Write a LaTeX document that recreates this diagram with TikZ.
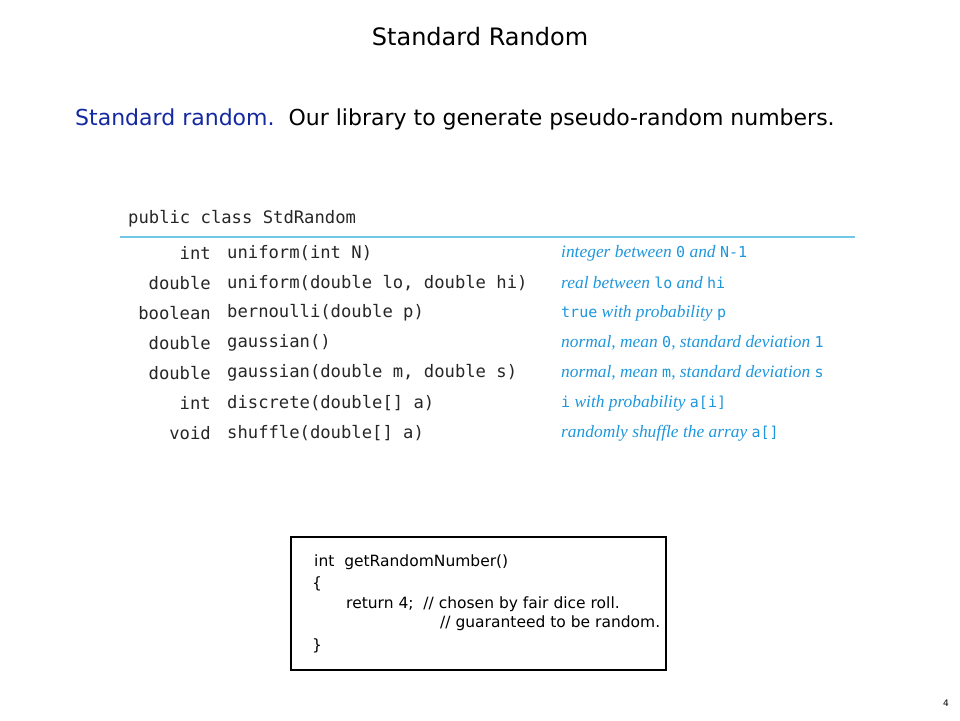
\documentclass[tikz,border=0pt]{standalone}
\usepackage{fontspec}
\setmainfont{Liberation Serif}
\setsansfont{DejaVu Sans}
\setmonofont{DejaVu Sans Mono}
\definecolor{titleblue}{RGB}{20,40,160}
\definecolor{descblue}{RGB}{30,150,220}
\definecolor{rulecyan}{RGB}{110,200,230}
\tikzset{
  code/.style={font=\ttfamily\fontsize{17.2}{19}\selectfont, inner sep=0pt, text=black!85},
  desc/.style={font=\itshape\fontsize{17.4}{19}\selectfont, inner sep=0pt, text=descblue, anchor=west},
  hand/.style={font=\sffamily\fontsize{15.5}{18}\selectfont, inner sep=0pt, anchor=west}
}
\newcommand{\tc}[1]{{\upshape\ttfamily\fontsize{15}{18}\selectfont #1}}
\begin{document}
\begin{tikzpicture}[x=1pt,y=-1pt]
    \useasboundingbox (0,0) rectangle (960,720);

    % title and intro line
    \node[font=\sffamily\fontsize{24}{27}\selectfont] (title) at (480,37) {Standard Random};
    \node[font=\sffamily\fontsize{22}{25}\selectfont, anchor=west, inner sep=0pt] (intro) at (75,119)
        {\textcolor{titleblue}{Standard random.}\ \ Our library to generate pseudo-random numbers.};

    % API table
    \node[code, anchor=west] (cls) at (128,219) {public class StdRandom};
    \draw[rulecyan, line width=1.5pt] (120,237) -- (855,237);

    \foreach \ret/\meth/\txt [count=\i] in {
        int/{uniform(int N)}/{integer between \tc{0} and \tc{N-1}},
        double/{uniform(double lo, double hi)}/{real between \tc{lo} and \tc{hi}},
        boolean/{bernoulli(double p)}/{\tc{true} with probability \tc{p}},
        double/{gaussian()}/{normal, mean \tc{0}, standard deviation \tc{1}},
        double/{gaussian(double m, double s)}/{normal, mean \tc{m}, standard deviation \tc{s}},
        int/{discrete(double[] a)}/{\tc{i} with probability \tc{a[i]}},
        void/{shuffle(double[] a)}/{randomly shuffle the array \tc{a[]}}}
    {
        \node[code, anchor=east] (ret\i) at (211,{223+30*\i}) {\ret};
        \node[code, anchor=west] (meth\i) at (227,{223+30*\i}) {\meth};
        \node[desc] (desc\i) at (561,{223+30*\i}) {\txt};
    }

    % comic box
    \draw[line width=1.2pt] (291,537) rectangle (666,670);
    \node[hand] (l1) at (314,562) {int\ \ getRandomNumber()};
    \node[hand] (l2) at (312,584) {\{};
    \node[hand] (l3) at (346,604) {return 4;\ \ // chosen by fair dice roll.};
    \node[hand] (l4) at (440,623) {// guaranteed to be random.};
    \node[hand] (l5) at (312,646) {\}};

    % page number
    \node[font=\sffamily\fontsize{9}{10}\selectfont] (pg) at (946,703) {4};
\end{tikzpicture}
\end{document}
